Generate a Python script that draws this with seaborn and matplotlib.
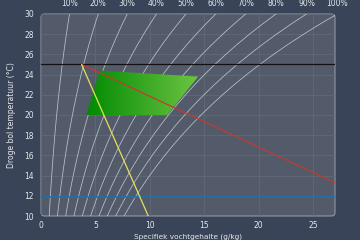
import numpy as np
import pandas as pd
import matplotlib
matplotlib.use("Agg")
import matplotlib.pyplot as plt
import seaborn as sns
from matplotlib.colors import LinearSegmentedColormap
from matplotlib.patches import Polygon, FancyBboxPatch

# Saturation vapour pressure table (kPa) per dry bulb temperature (°C)
temps = [10, 11, 12, 13, 14, 15, 16, 17, 18, 19, 20, 21, 22, 23, 24, 25, 26, 27, 28, 29, 30, 31]
psat = [1.228, 1.313, 1.403, 1.498, 1.599, 1.706, 1.819, 1.938, 2.065, 2.198, 2.339,
        2.488, 2.645, 2.810, 2.985, 3.169, 3.363, 3.567, 3.782, 4.008, 4.246, 4.495]
p_atm = 101.325
rh_levels = [10, 20, 30, 40, 50, 60, 70, 80, 90, 100]
rh_labels = ["10%", "20%", "30%", "40%", "50%", "60%", "70%", "80%", "90%", "100%"]

# Comfort zone polygon (x g/kg, T °C)
zone_x = [4.16, 5.39, 14.43, 11.6]
zone_t = [20.0, 24.4, 23.8, 20.0]

# Process lines
black_t = 25.0
blue_t = 11.9
red_x = [3.73, 27.0]
red_t = [25.0, 13.3]
yellow_x = [3.73, 9.85]
yellow_t = [25.0, 10.0]

x_ticks = [0, 5, 10, 15, 20, 25]
y_ticks = [10, 12, 14, 16, 18, 20, 22, 24, 26, 28, 30]

FIG_BG = "#3a4458"
AX_BG = "#535b6b"
TXT = "#e4e7ec"

sns.set_style("dark", {"axes.facecolor": AX_BG, "figure.facecolor": FIG_BG,
                       "grid.color": "#646c7b", "axes.edgecolor": "#9aa1ad"})
plt.rcParams['font.family'] = ['DejaVu Sans']

fig = plt.figure(figsize=(3.6, 2.4), dpi=100)
fig.patch.set_facecolor(FIG_BG)
ax = fig.add_axes([41/360, 24/240, 294/360, 202/240])
ax.set_facecolor(AX_BG)
ax.patch.set_visible(False)
bg = FancyBboxPatch((0, 0), 1, 1, boxstyle="round,pad=0,rounding_size=0.012",
                    transform=ax.transAxes, facecolor=AX_BG, edgecolor="#9aa1ad",
                    linewidth=0.7, zorder=-5, clip_on=False, mutation_aspect=294/202)
ax.add_patch(bg)
ax.grid(True, color="#616979", linewidth=0.6)
ax.set_axisbelow(True)

# RH curves
rows = []
for rh in rh_levels:
    phi = rh / 100.0
    for t, ps in zip(temps, psat):
        pv = phi * ps
        rows.append({"rh": rh, "t": t, "x": 622.0 * pv / (p_atm - pv)})
df = pd.DataFrame(rows)
for rh in rh_levels:
    d = df[df.rh == rh]
    sns.lineplot(x=d["x"].values, y=d["t"].values, ax=ax, color="#cfd3da",
                 linewidth=0.55, sort=False, estimator=None, alpha=0.85)

# Gradient comfort zone
poly = Polygon(list(zip(zone_x, zone_t)), closed=True, facecolor="none", edgecolor="none")
ax.add_patch(poly)
cmap = LinearSegmentedColormap.from_list("g", ["#028a02", "#6cc442"])
grad = np.linspace(0, 1, 256).reshape(1, -1)
im = ax.imshow(grad, cmap=cmap, aspect="auto",
               extent=[min(zone_x), max(zone_x), min(zone_t), max(zone_t)],
               origin="lower", zorder=2)
im.set_clip_path(poly)

# Lines
ax.axhline(black_t, color="#111111", linewidth=0.9, zorder=3)
ax.axhline(blue_t, color="#1d6fab", linewidth=1.2, zorder=3)
sns.lineplot(x=red_x, y=red_t, ax=ax, color="#c23a32", linewidth=0.9, zorder=4)
sns.lineplot(x=yellow_x, y=yellow_t, ax=ax, color="#e6e05a", linewidth=0.9, zorder=4)

ax.set_xlim(0, 27)
ax.set_ylim(10, 30)
ax.set_xticks(x_ticks)
ax.set_yticks(y_ticks)
ax.tick_params(axis="both", colors=TXT, labelsize=5.5, length=0)
ax.tick_params(axis="y", pad=5)
ax.tick_params(axis="x", pad=3.5)
for s in ax.spines.values():
    s.set_visible(False)

# RH labels along top
for rh, lab in zip(rh_levels, rh_labels):
    phi = rh / 100.0
    pv = phi * psat[temps.index(30)]
    xv = 622.0 * pv / (p_atm - pv)
    ax.text(xv, 30.55, lab, color=TXT, fontsize=5.5, ha="center", va="bottom",
            clip_on=False)

ax.set_ylabel("Droge bol temperatuur (°C)", color=TXT, fontsize=5.5, labelpad=6)
ax.set_xlabel("Specifiek vochtgehalte (g/kg)", color=TXT, fontsize=5.3, va="bottom")
ax.xaxis.set_label_coords(0.5, -23.6/202)

fig.savefig("out.png", dpi=100, facecolor=FIG_BG)
